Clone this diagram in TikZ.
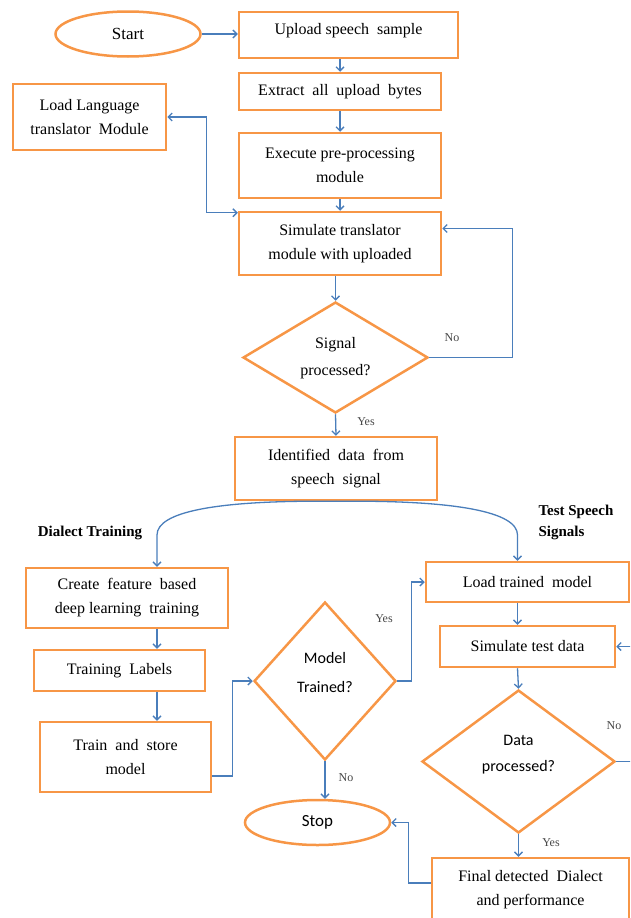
\documentclass[tikz,border=0pt]{standalone}
\usepackage{fontspec}
\setmainfont{Liberation Serif}
\newfontfamily\calibfont{Carlito}
\usepackage{xcolor}
\usetikzlibrary{shapes.geometric, arrows.meta, calc}

\definecolor{boxorange}{RGB}{247,150,70}
\definecolor{lineblue}{RGB}{74,126,187}
\definecolor{labelgray}{RGB}{70,70,70}

\tikzset{
  procbox/.style={draw=boxorange, line width=2.5pt, rectangle, align=center, inner sep=0pt, font=\fontsize{16}{24}\selectfont},
  termbox/.style={draw=boxorange, line width=2.5pt, ellipse, inner sep=0pt},
  decision/.style={draw=boxorange, line width=2.5pt, diamond, inner sep=0pt},
  flow/.style={draw=lineblue, line width=1.3pt, -{Straight Barb[length=4pt,width=8pt]}},
  flowboth/.style={draw=lineblue, line width=1.3pt, {Straight Barb[length=4pt,width=8pt]}-{Straight Barb[length=4pt,width=8pt]}},
  yesno/.style={font=\fontsize{12}{14}\selectfont, text=labelgray},
  sidehead/.style={font=\bfseries\fontsize{15}{21}\selectfont, align=left},
}

\begin{document}
\begin{tikzpicture}[x=1pt, y=-1pt]
    \useasboundingbox (0,0) rectangle (630,918);
    \clip (0,0) rectangle (630,918);

    % Upper column
    \node[termbox, minimum width=145, minimum height=45, font=\fontsize{17}{20}\selectfont] (start) at (128,34) {Start};
    \node[procbox, minimum width=219, minimum height=46, text depth=12pt] (upload) at (348.5,35) {Upload speech\ \ sample};
    \node[procbox, minimum width=202, minimum height=37] (extract) at (340,91.5) {Extract\ \ all\ \ upload\ \ bytes};
    \node[procbox, minimum width=153, minimum height=66] (loadlang) at (89.5,117) {Load Language\\translator\ \ Module};
    \node[procbox, minimum width=202, minimum height=65] (execute) at (340,165.5) {Execute pre-processing\\module};
    \node[procbox, minimum width=202, minimum height=63] (simtrans) at (340,243.5) {Simulate translator\\module with uploaded};
    \node[decision, minimum width=185, minimum height=111] (signal) at (335.5,357.5) {};
    \node[align=center, font=\fontsize{16}{27}\selectfont] (signaltxt) at (335.5,358) {Signal\\processed?};
    \node[procbox, minimum width=202, minimum height=63] (ident) at (336,468.5) {Identified\ \ data\ \ from\\speech\ \ signal};

    % Branch headings
    \node[sidehead] (dialhead) at (90,533) {Dialect Training};
    \node[sidehead, anchor=west] (testhead) at (535,522) {Test Speech\\Signals};

    % Training branch
    \coordinate (leftcol) at (157,0);
    \node[procbox, minimum width=202, minimum height=60] (feat) at (127,598) {Create\ \ feature\ \ based\\deep learning\ \ training};
    \node[procbox, minimum width=171, minimum height=41] (labels) at (119.5,670.5) {Training\ \ Labels};
    \node[procbox, minimum width=171, minimum height=70] (trainstore) at (125.5,757) {Train\ \ and\ \ store\\model};
    \node[decision, minimum width=142, minimum height=158] (model) at (325,681) {};
    \node[align=center, font=\calibfont\fontsize{16}{29}\selectfont] (modeltxt) at (325,672) {Model\\Trained?};
    \node[termbox, minimum width=145, minimum height=45, font=\calibfont\fontsize{17}{20}\selectfont] (stop) at (317.5,822.5) {Stop};

    % Testing branch
    \coordinate (rightcol) at (517.5,0);
    \node[procbox, minimum width=203, minimum height=40] (loadtrained) at (527.5,582) {Load trained\ \ model};
    \node[procbox, minimum width=175, minimum height=41] (simtest) at (527.5,646.5) {Simulate test data};
    \node[decision, minimum width=193, minimum height=143] (data) at (518.5,761.5) {};
    \node[align=center, font=\calibfont\fontsize{16}{26}\selectfont] (datatxt) at (518.5,755) {Data\\processed?};
    \node[procbox, minimum width=197, minimum height=64] (final) at (530.5,890) {Final detected\ \ Dialect\\and performance};

    % Yes / No labels
    \node[yesno] (no1) at (452,338) {No};
    \node[yesno] (yes1) at (366,422) {Yes};
    \node[yesno] (yes2) at (384,619) {Yes};
    \node[yesno] (no2) at (346,778) {No};
    \node[yesno] (no3) at (614,726) {No};
    \node[yesno] (yes3) at (551,843) {Yes};

    % Connectors, upper column
    \draw[flow] (start.east) -- (upload.west |- start.east);
    \draw[flow] (upload.south -| extract.north) -- (extract.north);
    \draw[flow] (extract) -- (execute);
    \draw[flow] (execute) -- (simtrans);
    \draw[flowboth] (loadlang.east) -- ++(39,0) |- ($(simtrans.north west)+(0,2)$);
    \draw[flow] (simtrans.south -| signal.north) -- (signal.north);
    \draw[flow] (signal.east) -- ++(83,0) |- ($(simtrans.east)+(0,-15)$);
    \draw[flow] (signal.south) -- (ident.north);

    % Split into the two branches
    \draw[flow] (ident.south) .. controls (215,500) and (leftcol |- 0,512) .. (leftcol |- 0,535) -- (leftcol |- feat.north);
    \draw[flow] (ident.south) .. controls (457,500) and (rightcol |- 0,512) .. (rightcol |- 0,535) -- (rightcol |- loadtrained.north);

    % Connectors, training branch
    \draw[flow] (leftcol |- feat.south) -- (leftcol |- labels.north);
    \draw[flow] (leftcol |- labels.south) -- (leftcol |- trainstore.north);
    \draw[flow] ($(trainstore.east)+(0,19)$) -- ++(20,0) |- (model.west);
    \draw[flow] (model.east) -- ++(14,0) |- (loadtrained.west);
    \draw[flow] (model.south) -- (model.south |- stop.north);

    % Connectors, testing branch
    \draw[flow] (rightcol |- loadtrained.south) -- (rightcol |- simtest.north);
    \draw[flow] (rightcol |- simtest.south) -- (data.north);
    \draw[flow] (data.east) -- ++(25,0) |- (simtest.east);
    \draw[flow] (data.south) -- (data.south |- final.north);
    \draw[flow] ($(final.west)+(0,-7)$) -- ++(-22,0) |- (stop.east);
\end{tikzpicture}
\end{document}
